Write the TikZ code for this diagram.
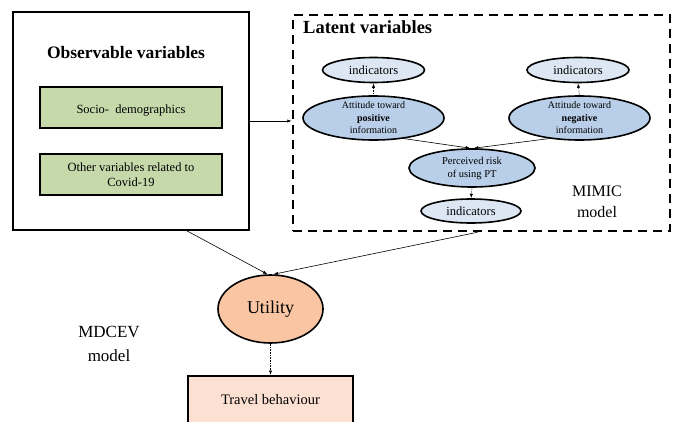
\documentclass[tikz,border=0pt]{standalone}
\usepackage{fontspec}
\setmainfont{Liberation Serif}
\usetikzlibrary{arrows.meta,shapes.geometric,calc}
\definecolor{obsgreen}{RGB}{197,217,170}
\definecolor{indblue}{RGB}{221,231,244}
\definecolor{latblue}{RGB}{185,207,233}
\definecolor{utilpeach}{RGB}{249,197,163}
\definecolor{travpeach}{RGB}{252,225,211}
\begin{document}
\begin{tikzpicture}[x=1pt,y=-1pt,
  frame/.style={draw, line width=1.8pt, rectangle, inner sep=0pt},
  greenbox/.style={draw, line width=1.8pt, fill=obsgreen, minimum width=182pt, minimum height=41pt, inner sep=0pt, font=\fontsize{12.5}{15}\selectfont, align=center},
  ind/.style={ellipse, draw, line width=1.6pt, fill=indblue, minimum width=102pt, minimum height=25pt, inner sep=0pt, font=\fontsize{12.5}{14}\selectfont},
  lat/.style={ellipse, draw, line width=1.6pt, fill=latblue, inner sep=0pt},
  lattext/.style={align=center, inner sep=0pt, font=\fontsize{10}{12.5}\selectfont},
  title/.style={font=\fontsize{17.5}{20}\selectfont\bfseries, inner sep=0pt},
  plain/.style={inner sep=0pt, align=center},
  conn/.style={line width=0.6pt, -{Latex[length=4.5pt,width=3.2pt]}},
  dotconn/.style={conn, densely dotted},
]
\useasboundingbox[fill=white] (0,0) rectangle (676,422);

% observable variables block
\node[frame, minimum width=236pt, minimum height=218pt] (obs) at (131,121) {};
\node[title] (obstitle) at (126,53) {Observable variables};
\node[greenbox] (socio) at (131,107.5) {};
\node[plain, font=\fontsize{12.5}{15}\selectfont] (sociot) at ($(socio)+(0,3)$) {Socio-\ \ demographics};
\node[greenbox] (other) at (131,174.5) {Other variables related to\\Covid-19};

% latent variables block
\node[draw, line width=2.5pt, dash pattern=on 9pt off 6pt, minimum width=377pt, minimum height=216pt, inner sep=0pt] (latbox) at (481.5,123) {};
\node[title, font=\fontsize{18.5}{20}\selectfont\bfseries, anchor=west] (lattitle) at (303,27) {Latent variables};

\node[ind] (indL) at (373.5,70) {indicators};
\node[ind] (indR) at (578,70) {indicators};
\node[lat, minimum width=141pt, minimum height=44pt] (attP) at (373.5,118) {};
\node[lattext] (attPt) at (attP) {Attitude toward\\\textbf{positive}\\information};
\node[lat, minimum width=141pt, minimum height=44pt] (attN) at (579.5,118) {};
\node[lattext] (attNt) at (attN) {Attitude toward\\\textbf{negative}\\information};
\node[lat, minimum width=126pt, minimum height=38pt] (risk) at (472,168) {};
\node[lattext, font=\fontsize{10.5}{13}\selectfont] (riskt) at (risk) {Perceived risk\\of using PT};
\node[ind, minimum width=100pt, minimum height=24pt] (indB) at (471,211) {indicators};

\node[plain, font=\fontsize{16}{21}\selectfont] (mimic) at (597,202) {MIMIC\\model};

% lower part
\node[ellipse, draw, line width=1.6pt, fill=utilpeach, minimum width=105pt, minimum height=68pt, inner sep=0pt, font=\fontsize{18}{20}\selectfont] (util) at (270.5,309) {Utility};
\node[plain, font=\fontsize{17}{24}\selectfont] (mdcev) at (109,344) {MDCEV\\model};
\node[frame, fill=travpeach, minimum width=165pt, minimum height=70pt, anchor=north] (trav) at (270.5,375) {};
\node[plain, font=\fontsize{14.5}{16}\selectfont] (travt) at ($(trav.north)+(0,25)$) {Travel behaviour};

% connectors
\draw[conn] (obs.east) -- (obs.east -| latbox.west);
\draw[dotconn] (attP.north) -- (indL.south);
\draw[dotconn] (attN.north) -- (indR.south);
\draw[conn] (attP.-34) -- (risk.95);
\draw[conn] (attN.-146) -- (risk.85);
\draw[dotconn] (risk.south) -- (indB.north);
\draw[conn] (obs.-63) -- (util.95);
\draw[conn] ($(latbox.south)+(-4,0)$) -- (util.85);
\draw[dotconn] (util.south) -- (trav.north);
\end{tikzpicture}
\end{document}
